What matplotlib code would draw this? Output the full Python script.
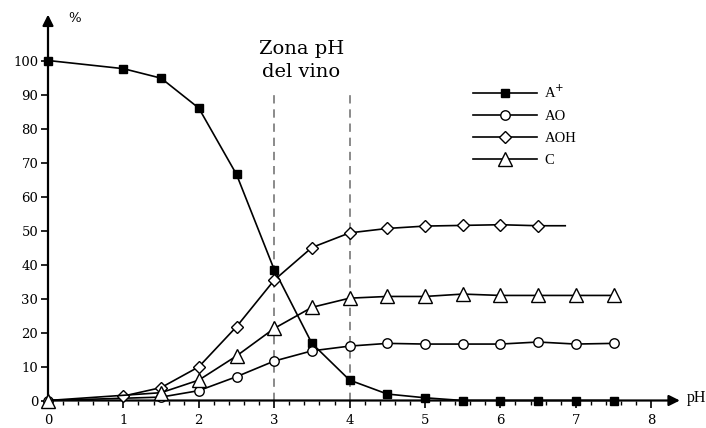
import numpy as np
import matplotlib.pyplot as plt
from matplotlib.ticker import FixedLocator

# pH points and % of each form
ph_a = [0, 1, 1.5, 2, 2.5, 3, 3.5, 4, 4.5, 5, 5.5, 6, 6.5, 7, 7.5]
a_plus = [100, 97.6, 94.8, 86.0, 66.5, 38.5, 16.8, 6.0, 1.9, 0.8, 0, 0, 0, 0, 0]

ph_ao = [0, 1.5, 2, 2.5, 3, 3.5, 4, 4.5, 5, 5.5, 6, 6.5, 7, 7.5]
ao = [0, 1.0, 2.9, 7.0, 11.6, 14.6, 16.0, 16.8, 16.6, 16.6, 16.6, 17.2, 16.6, 16.8]

ph_aoh = [1, 1.5, 2, 2.5, 3, 3.5, 4, 4.5, 5, 5.5, 6, 6.5, 6.86]
aoh = [1.3, 3.8, 9.9, 21.7, 35.4, 45.0, 49.3, 50.6, 51.3, 51.5, 51.7, 51.4, 51.4]

ph_c = [0, 1.5, 2, 2.5, 3, 3.5, 4, 4.5, 5, 5.5, 6, 6.5, 7, 7.5]
c = [0, 2.3, 6.0, 13.1, 21.2, 27.4, 30.1, 30.6, 30.6, 31.3, 30.9, 30.9, 30.9, 30.9]

zona = [3, 4]

plt.rcParams['font.family'] = ['Liberation Serif', 'DejaVu Serif']

fig = plt.figure(figsize=(7.06, 4.28), dpi=100)
ax = fig.add_axes([48 / 706, 27.5 / 428, 658 / 706, 400.5 / 428])
ax.set_xlim(0, 658 / 75.4)
ax.set_ylim(0, 400.5 / 3.4)

for s in ax.spines.values():
    s.set_visible(False)

# axes with arrows
ax.annotate('', xy=(0, 113.5), xytext=(0, 0),
            arrowprops=dict(arrowstyle='-|>', lw=1.6, color='k', mutation_scale=16,
                            shrinkA=0, shrinkB=0), annotation_clip=False)
ax.annotate('', xy=(8.38, 0), xytext=(0, 0),
            arrowprops=dict(arrowstyle='-|>', lw=1.6, color='k', mutation_scale=16,
                            shrinkA=0, shrinkB=0), annotation_clip=False)
ax.text(0.27, 112.5, '%', fontsize=9.5, family='DejaVu Serif', va='center', ha='left')
ax.text(8.47, 0.8, 'pH', fontsize=11.5, va='center', ha='left')

ax.set_xticks(range(0, 9))
ax.xaxis.set_minor_locator(FixedLocator(np.arange(0, 8.01, 0.2)))
ax.set_yticks(range(0, 101, 10))
ax.tick_params(axis='both', which='major', labelsize=9.5, width=1.2, length=5, direction='out')
ax.tick_params(axis='x', which='minor', length=3, width=1, direction='out')
ax.tick_params(axis='y', pad=2)
ax.tick_params(axis='x', pad=5)
for lab in ax.get_xticklabels() + ax.get_yticklabels():
    lab.set_family('DejaVu Serif')

for x in zona:
    ax.plot([x, x], [0, 90.2], color='#777777', lw=1.2, dashes=(5, 3.5), zorder=1)
ax.text(3.36, 100, 'Zona pH\ndel vino', fontsize=14, family='DejaVu Serif',
        ha='center', va='center', linespacing=1.35)

ax.plot(ph_a, a_plus, '-', color='k', lw=1.2, marker='s', ms=5.2, mfc='k', mec='k',
        label='A$^{+}$', clip_on=False, zorder=3)
ax.plot(ph_ao, ao, '-', color='k', lw=1.2, marker='o', ms=6.8, mfc='white', mec='k',
        mew=1, label='AO', clip_on=False, zorder=4)
ax.plot(ph_aoh, aoh, '-', color='k', lw=1.2, marker='D', ms=6.2, mfc='white', mec='k',
        mew=1, label='AOH', clip_on=False, zorder=5, markevery=list(range(len(ph_aoh) - 1)))
ax.plot(ph_c, c, '-', color='k', lw=1.2, marker='^', ms=9.5, mfc='white', mec='k',
        mew=1, label='C', clip_on=False, zorder=6)

ax.legend(loc='upper left', bbox_to_anchor=(473 / 706, 1 - 84 / 428),
          bbox_transform=fig.transFigure, frameon=False, fontsize=10.5,
          handlelength=4.4, handletextpad=0.5, labelspacing=0.6,
          borderpad=0, borderaxespad=0)

fig.savefig('out.png', dpi=100)
